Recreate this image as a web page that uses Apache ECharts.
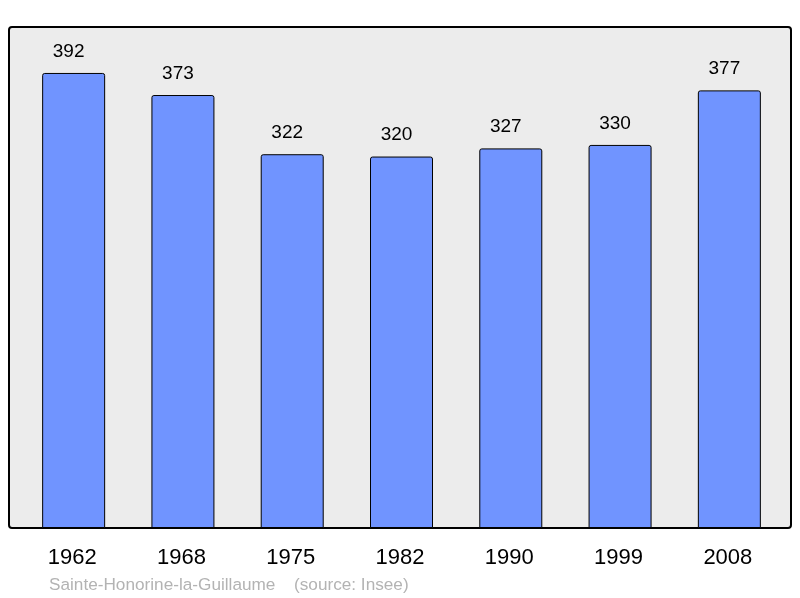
<!DOCTYPE html>
<html>
<head>
<meta charset="utf-8">
<script src="https://cdn.jsdelivr.net/npm/echarts@6/dist/echarts.min.js"></script>
<style>
  html, body { margin: 0; padding: 0; background: #fff; }
  #chart { width: 800px; height: 598px; }
</style>
</head>
<body>
<div id="chart"></div>
<script>
  // population by census year
  const years = ["1962", "1968", "1975", "1982", "1990", "1999", "2008"]
  const population = [392, 373, 322, 320, 327, 330, 377]
  const commune = "Sainte-Honorine-la-Guillaume"
  const source = "(source: Insee)"

  const font = "Liberation Sans, Arial, sans-serif"
  const myChart = echarts.init(document.getElementById("chart"), null, {renderer: "canvas"})

  let option = {
    animation: false,
    textStyle: {fontFamily: font},
    grid: {left: 19, right: 16, top: 27, bottom: 70},
    graphic: [
      {
        type: "rect", z: -10, silent: true,
        shape: {x: 9, y: 27, width: 782, height: 501, r: 3},
        style: {fill: "#ececec", stroke: "#000", lineWidth: 2}
      },
      {
        type: "text", left: 49, top: 577, silent: true,
        style: {text: commune, fill: "#b3b3b3", fontSize: 17.2, fontFamily: font}
      },
      {
        type: "text", left: 294, top: 577, silent: true,
        style: {text: source, fill: "#b3b3b3", fontSize: 17.2, fontFamily: font}
      }
    ],
    xAxis: {
      type: "category",
      data: years,
      axisLine: {show: false},
      axisTick: {show: false},
      axisLabel: {color: "#000", fontSize: 22, margin: 19, padding: [0, 3, 0, 0]}
    },
    yAxis: {
      type: "value",
      min: 0,
      max: 431.6,
      show: false,
      splitLine: {show: false}
    },
    series: [{
      type: "bar",
      data: population,
      barWidth: 63,
      itemStyle: {color: "#7094ff", borderColor: "#000", borderWidth: 1, borderRadius: [2, 2, 0, 0]},
      label: {show: true, position: "top", distance: 12, offset: [-5, 0], color: "#000", fontSize: 19}
    }]
  }

  myChart.setOption(option)
</script>
</body>
</html>
